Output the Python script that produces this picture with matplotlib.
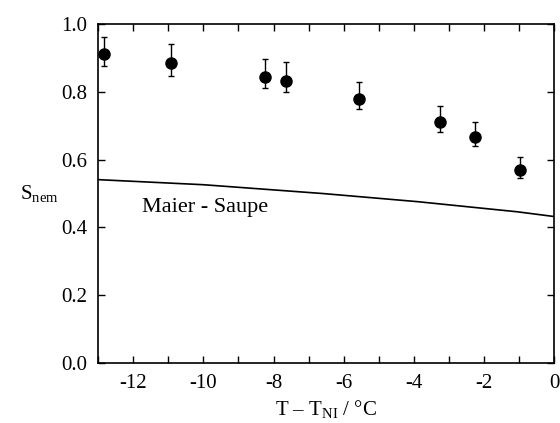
import matplotlib
matplotlib.use("Agg")
import matplotlib.pyplot as plt
from matplotlib.ticker import MultipleLocator, FormatStrFormatter

plt.rcParams["font.family"] = ["Liberation Serif", "DejaVu Serif"]
plt.rcParams["mathtext.fontset"] = "custom"
plt.rcParams["mathtext.rm"] = "Liberation Serif"
plt.rcParams["mathtext.it"] = "Liberation Serif:italic"
plt.rcParams["axes.unicode_minus"] = False

# measured order parameter
t_data = [-12.82, -10.91, -8.24, -7.65, -5.56, -3.27, -2.27, -0.97]
s_data = [0.911, 0.884, 0.843, 0.833, 0.779, 0.711, 0.668, 0.569]
err_up = [0.050, 0.058, 0.054, 0.054, 0.051, 0.047, 0.044, 0.040]
err_down = [0.036, 0.037, 0.033, 0.033, 0.031, 0.029, 0.027, 0.022]

# Maier-Saupe curve
t_ms = [-13, -10, -6.6, -3.9, -1.05, 0]
s_ms = [0.541, 0.526, 0.500, 0.476, 0.446, 0.432]

fig = plt.figure(figsize=(5.6, 4.23), dpi=100)
ax = fig.add_axes([0.175, 0.142, 0.815, 0.801])

ax.plot(t_ms, s_ms, color="black", lw=1.2)
ax.errorbar(t_data, s_data, yerr=[err_down, err_up], fmt="o", color="black",
            markersize=8, elinewidth=1, capsize=2.5, capthick=1)
ax.text(-11.75, 0.46, "Maier - Saupe", fontsize=16, va="center", ha="left")

ax.set_xlim(-13, 0)
ax.set_ylim(0, 1.0)
ax.xaxis.set_major_locator(MultipleLocator(2))
ax.xaxis.set_minor_locator(MultipleLocator(1))
ax.yaxis.set_major_locator(MultipleLocator(0.2))
ax.yaxis.set_major_formatter(FormatStrFormatter("%.1f"))
ax.tick_params(which="both", direction="in", top=True, right=True,
               labelsize=15, width=1)
ax.tick_params(which="major", length=5, pad=8)
ax.tick_params(which="minor", length=5)
for s in ax.spines.values():
    s.set_linewidth(1.2)

ax.set_xlabel(r"T – T$_{\mathrm{NI}}$ / °C", fontsize=15, va="baseline")
ax.xaxis.set_label_coords(0.5, -0.154)
ax.set_ylabel(r"S$_{\mathrm{nem}}$", fontsize=15, rotation=0, va="center")
ax.yaxis.set_label_coords(-0.128, 0.50)

fig.savefig("out.png", dpi=100)
